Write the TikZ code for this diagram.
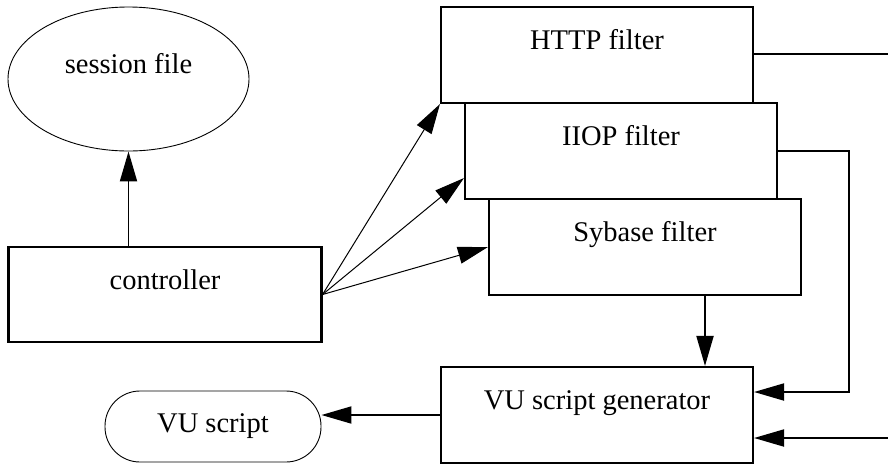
\documentclass[tikz,border=0pt]{standalone}
\usepackage{fontspec}
\setmainfont{Liberation Serif}
\usetikzlibrary{arrows.meta,calc,shapes.geometric}

\begin{document}
\begin{tikzpicture}[x=1pt,y=-1pt,
  font=\fontsize{28.5}{34}\selectfont,
  box/.style={draw,line width=2.1pt,minimum width=312pt,minimum height=96pt,
    inner sep=0pt,text height=20pt,text depth=31pt},
  conn/.style={line width=1.9pt,-{Triangle[length=30pt,width=17pt]}},
  fan/.style={line width=1pt,-{Triangle[length=30pt,width=17pt]}},
  plain/.style={line width=1.9pt}]

  \useasboundingbox (0,0) rectangle (888,464);

  % data store and controller
  \node[draw,ellipse,line width=0.9pt,minimum width=241pt,minimum height=144pt,
    inner sep=0pt,text height=20pt,text depth=31pt] (session) at (128.5,79) {session file};
  \node[box,minimum width=313pt,minimum height=95pt] (ctrl) at (165,294.5) {controller};

  % protocol filters
  \node[box] (http) at (597,55) {HTTP filter};
  \node[box] (iiop) at (621,151) {IIOP filter};
  \node[box] (syb) at (645,247) {Sybase filter};

  % generator and output
  \node[box] (gen) at (597,415) {VU script generator};
  \node[draw,line width=0.9pt,rounded corners=35pt,minimum width=216pt,
    minimum height=71pt,inner sep=0pt] (vus) at (213,426.5) {VU script};

  % free ends leaving the picture on the right
  \coordinate (outA) at (888,54);
  \coordinate (inB) at (888,438);
  \coordinate (bend) at (849,151);

  % connectors
  \draw[conn] (session.south |- ctrl.north) -- (session.south);
  \draw[fan] (ctrl.east) -- (http.south west);
  \draw[fan] (ctrl.east) -- ($(iiop.south west)+(0,-22)$);
  \draw[fan] (ctrl.east) -- (syb.west);
  \draw[plain] (http.east |- outA) -- (outA);
  \draw[conn] (iiop.east) -- (bend) |- ($(gen.east)+(0,-23)$);
  \draw[conn] (inB) -- (gen.east |- inB);
  \draw[conn] (705,0 |- syb.south) -- (705,0 |- gen.north);
  \draw[conn] (gen.west) -- (gen.west -| vus.east);
\end{tikzpicture}
\end{document}
